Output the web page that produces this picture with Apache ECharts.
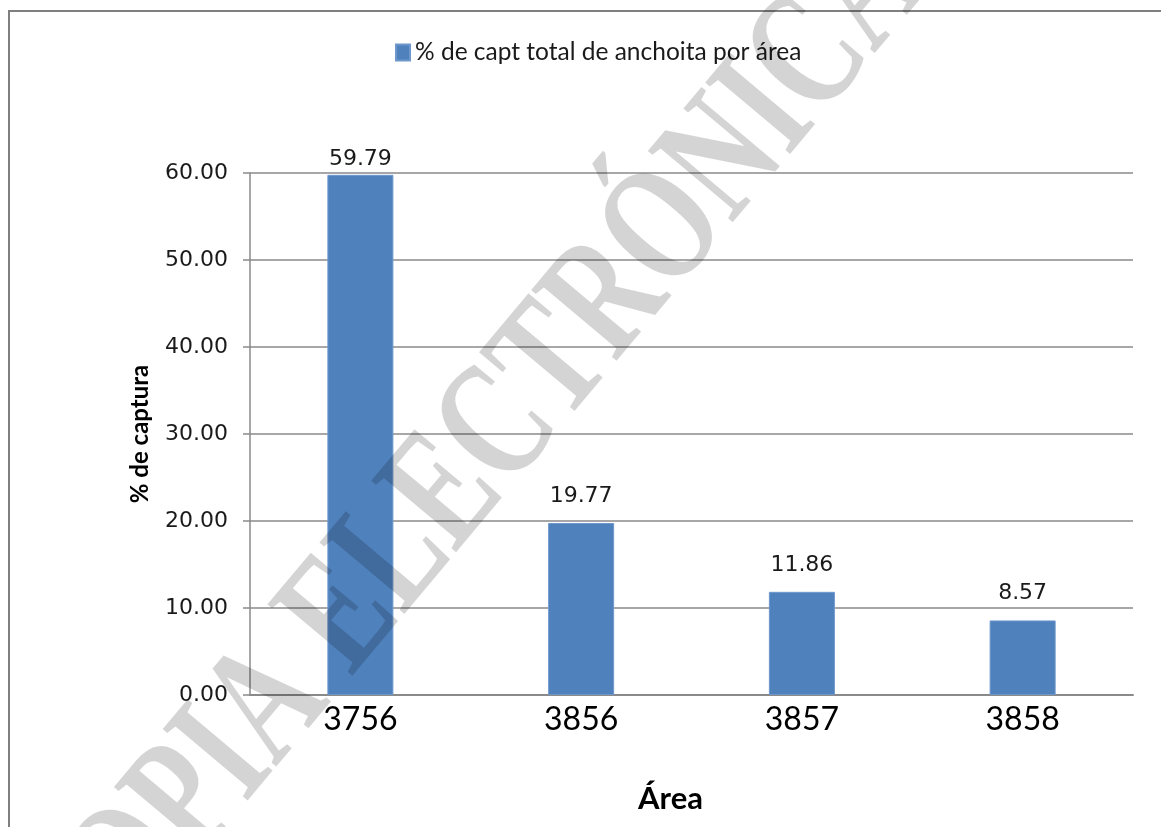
<!DOCTYPE html>
<html>
<head>
<meta charset="utf-8">
<script src="https://cdn.jsdelivr.net/npm/echarts@6/dist/echarts.min.js"></script>
<style>html,body{margin:0;padding:0;background:#fff;}#c{width:1161px;height:827px;}</style>
</head>
<body>
<div id="c"></div>
<script>
const categories = ['3756', '3856', '3857', '3858'];
const values = [59.79, 19.77, 11.86, 8.57];
const seriesName = '% de capt total de anchoita por área';
const yTicks = { min: 0, max: 60, interval: 10 };
const xName = 'Área';
const yName = '% de captura';
const watermark = 'COPIA ELECTRÓNICA';

const chart = echarts.init(document.getElementById('c'), null, { renderer: 'canvas' });
const data = values.map((v, i) => i === 0
  ? { value: v, label: { distance: 5 } }
  : { value: v });

chart.setOption({
  animation: false,
  backgroundColor: '#fff',
  legend: {
    top: 35,
    left: 390,
    itemWidth: 14,
    itemHeight: 16,
    itemGap: 6,
    textStyle: { fontFamily: 'Lato', fontSize: 24.5, color: '#1a1a1a' },
    data: [{ name: seriesName, icon: 'rect' }]
  },
  grid: { left: 250, right: 28, top: 173, bottom: 132, containLabel: false },
  xAxis: {
    type: 'category',
    data: categories,
    name: xName,
    nameLocation: 'middle',
    nameGap: 88,
    nameTextStyle: { fontFamily: 'Lato', fontSize: 31, fontWeight: 'bold', color: '#000', padding: [0, 42, 0, 0] },
    axisLine: { lineStyle: { color: '#8a8a8a', width: 2 } },
    axisTick: { show: false },
    axisLabel: { fontFamily: 'Lato', fontSize: 32, color: '#000', margin: 9 }
  },
  yAxis: {
    type: 'value',
    min: yTicks.min,
    max: yTicks.max,
    interval: yTicks.interval,
    name: yName,
    nameLocation: 'middle',
    nameGap: 98,
    nameTextStyle: { fontFamily: 'Lato', fontSize: 24, fontWeight: 'bold', color: '#000' },
    axisLine: { show: true, lineStyle: { color: '#8a8a8a', width: 1.5 } },
    axisTick: { show: true, length: 7, lineStyle: { color: '#8a8a8a', width: 1.5 } },
    splitLine: { show: true, lineStyle: { color: '#8a8a8a', width: 1.5 } },
    axisLabel: {
      fontFamily: 'DejaVu Sans', fontSize: 22, color: '#1a1a1a', margin: 22,
      formatter: v => v.toFixed(2)
    }
  },
  series: [{
    name: seriesName,
    type: 'bar',
    data: data,
    barWidth: 66,
    itemStyle: { color: '#4F81BD', borderColor: '#6e97cc', borderWidth: 1 },
    label: {
      show: true,
      position: 'top',
      distance: 16,
      fontFamily: 'DejaVu Sans',
      fontSize: 22,
      color: '#1a1a1a',
      formatter: p => p.value.toFixed(2)
    }
  }],
  graphic: [
    {
      type: 'rect',
      z: 50,
      shape: { x: 9, y: 11, width: 1300, height: 1000 },
      style: { fill: 'none', stroke: '#7f7f7f', lineWidth: 2 }
    },
    {
      type: 'text',
      z: 100,
      x: 472,
      y: 465,
      rotation: 50 * Math.PI / 180,
      scaleX: 1,
      scaleY: 1.4,
      style: {
        text: watermark,
        fontFamily: 'Liberation Serif',
        fontWeight: 'bold',
        fontSize: 121,
        fill: 'rgba(0,0,0,0.17)',
        align: 'center',
        verticalAlign: 'middle'
      }
    }
  ]
});
</script>
</body>
</html>
